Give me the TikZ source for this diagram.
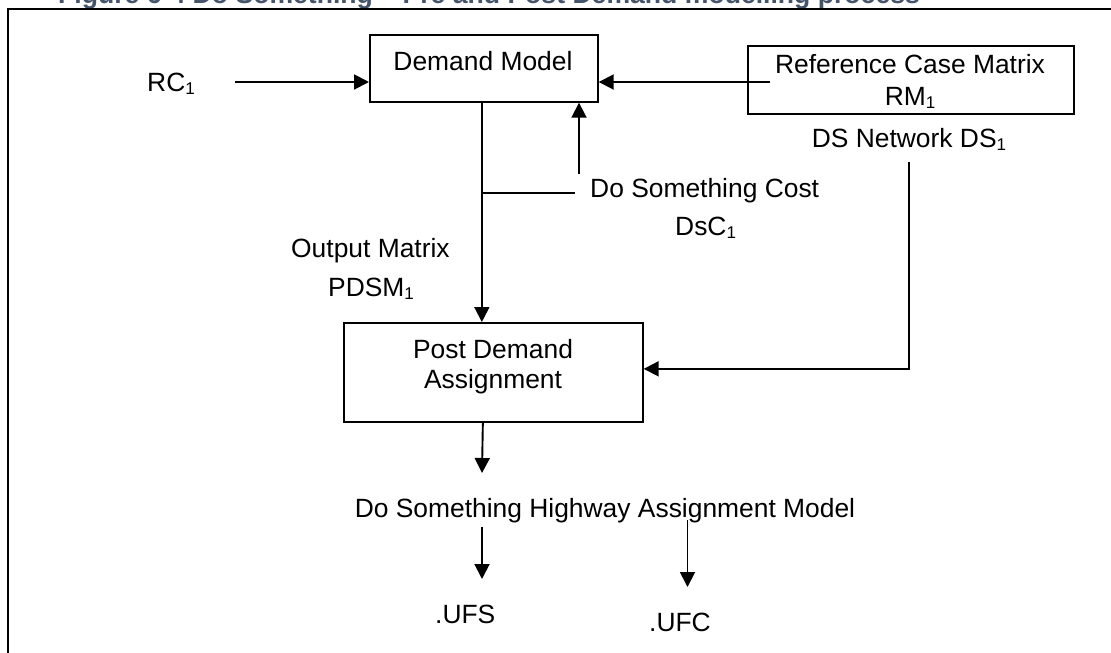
\documentclass[tikz,border=0pt]{standalone}
\usepackage{fontspec}
\setmainfont{Liberation Sans}
\usetikzlibrary{arrows.meta}
\definecolor{captionblue}{RGB}{68,84,106}
% lowered subscript "1" as used in the matrix names
\newcommand\lowone{\raisebox{-3.5pt}{\fontsize{17}{17}\selectfont 1}}
\tikzset{
  txt/.style={font=\fontsize{26.4}{30}\selectfont, inner sep=0pt, anchor=base},
  box/.style={draw, line width=1.7pt, inner sep=0pt},
  thickbox/.style={draw, line width=2.3pt, inner sep=0pt},
  flow/.style={line width=1.9pt, -{Triangle[length=15pt,width=15pt]}},
  link/.style={line width=1.9pt},
}
\begin{document}
\begin{tikzpicture}[x=1pt,y=-1pt]
\useasboundingbox (0,0) rectangle (1111,653);
\clip (0,0) rectangle (1111,653);

% caption above the frame
\node[txt, anchor=base west, font=\bfseries\fontsize{26.6}{30}\selectfont, text=captionblue]
  (caption) at (58,3) {Figure 6-4 Do Something – Pre and Post Demand modelling process};

% outer frame
\draw[line width=2.2pt] (8,670) -- (8,9) -- (1130,9);

% boxes
\node[box, minimum width=228pt, minimum height=67pt, anchor=north west] (dm) at (369,34) {};
\node[txt] (dmlabel) at (483,70) {Demand Model};

\node[thickbox, minimum width=326pt, minimum height=68pt, anchor=north west] (rm) at (747,45) {};
\node[txt] (rmlabel) at (910,73) {Reference Case Matrix};
\node[txt] (rmname) at (910,105) {RM\lowone};

\node[box, minimum width=299pt, minimum height=99pt, anchor=north west] (pda) at (343,322) {};
\node[txt] (pdalabel) at (493,358) {Post Demand};
\node[txt] (pdalabelb) at (493,388) {Assignment};

% free labels
\node[txt] (ds) at (909,147) {DS Network DS\lowone};
\node[txt, anchor=base west] (rc) at (147,91) {RC\lowone};
\node[txt, anchor=base west] (cost) at (590,197) {Do Something Cost};
\node[txt, anchor=base west] (dsc) at (675,235) {DsC\lowone};
\node[txt, anchor=base west] (outm) at (291,257) {Output Matrix};
\node[txt, anchor=base west] (pdsm) at (328,296) {PDSM\lowone};
\node[txt] (dsham) at (605,517) {Do Something Highway Assignment Model};
\node[txt, anchor=base west] (ufs) at (435,623) {.UFS};
\node[txt, anchor=base west] (ufc) at (649,631) {.UFC};

% connectors
\coordinate (rcout) at (235,82);
\draw[flow] (rcout) -- (rcout -| dm.west);
\coordinate (rmout) at (770,82);
\draw[flow] (rmout) -- (rmout -| dm.east);
\coordinate (costup) at (579,174);
\draw[flow] (costup) -- (costup |- dm.south);
\coordinate (trunktop) at ([xshift=-2pt]dm.south);
\draw[flow] (trunktop) -- (trunktop |- pda.north);
\coordinate (costbranch) at (575,193);
\draw[link] (costbranch) -- (costbranch -| trunktop);
\coordinate (dsfoot) at (909,162);
\draw[flow] (dsfoot) |- ([yshift=3.5pt]pda.east);
\coordinate (pdafoot) at ([xshift=-10.5pt]pda.south);
\coordinate (hamtop) at (482,473);
\draw[flow] (pdafoot) -- (hamtop);
\coordinate (ufsstart) at (482,527);
\draw[flow] (ufsstart) -- (ufsstart |- 0,579);
\coordinate (ufcstart) at (687.5,520);
\draw[flow] (ufcstart) -- (ufcstart |- 0,587);
\end{tikzpicture}
\end{document}
